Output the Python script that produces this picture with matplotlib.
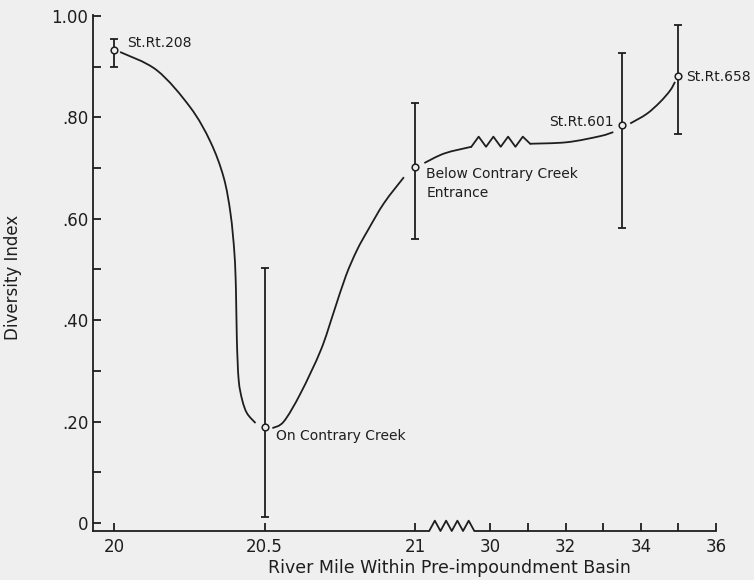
import numpy as np
import matplotlib
matplotlib.use("Agg")
import matplotlib.pyplot as plt
from matplotlib.transforms import blended_transform_factory
from matplotlib.path import Path
from matplotlib.patches import PathPatch

# ---------------- data ----------------
station_miles = [20.0, 20.5, 21.0, 33.5, 35.0]
station_values = [0.932, 0.189, 0.702, 0.784, 0.881]
err_low = [0.899, 0.012, 0.560, 0.581, 0.768]
err_high = [0.955, 0.502, 0.828, 0.928, 0.983]
station_labels = ["St.Rt.208", "On Contrary Creek",
                  "Below Contrary Creek\nEntrance", "St.Rt.601", "St.Rt.658"]

# hand-drawn trend curve (traced), pieces separated by NaN
nan = np.nan
curve_miles = [20.020, 20.142, 20.253, 20.320, 20.364, 20.387, 20.400, 20.405,
               20.408, 20.414, 20.426, 20.442, 20.470, nan,
               20.526, 20.564, 20.620, 20.687, 20.730, 20.770, 20.807, 20.843,
               20.897, 20.963, nan,
               21.031, 21.098, 21.187, nan,
               31.06, 32.04, 32.92, 33.27, nan,
               33.72, 34.16, 34.51, 34.78, 34.91]
curve_values = [0.929, 0.893, 0.820, 0.752, 0.682, 0.610, 0.531, 0.459,
                0.361, 0.282, 0.242, 0.216, 0.197, nan,
                0.187, 0.200, 0.256, 0.341, 0.416, 0.487, 0.538, 0.577,
                0.631, 0.682, nan,
                0.710, 0.729, 0.742, nan,
                0.748, 0.751, 0.763, 0.771, nan,
                0.788, 0.807, 0.830, 0.853, 0.870]

x_major_ticks = [20, 20.5, 21, 30, 32, 34, 36]
x_major_labels = ["20", "20.5", "21", "30", "32", "34", "36"]
x_minor_ticks = [31, 33, 35]
y_major_ticks = [0, 0.2, 0.4, 0.6, 0.8, 1.0]
y_major_labels = ["0", ".20", ".40", ".60", ".80", "1.00"]
y_minor_ticks = [0.1, 0.3, 0.5, 0.7, 0.9]

# ---------------- broken x scale ----------------
BREAK_LO, BREAK_HI = 21.25, 30.0
SEG1_RATE = 8.0  # scale units per mile in the first segment
UB = (BREAK_LO - 20.0) * SEG1_RATE


def fwd(m):
    m = np.asarray(m, dtype=float)
    seg1 = (m - 20.0) * SEG1_RATE
    seg2 = (m - BREAK_HI) + UB
    return np.where(m <= BREAK_LO, seg1, np.where(m >= BREAK_HI, seg2, UB))


def inv(u):
    u = np.asarray(u, dtype=float)
    return np.where(u <= UB, 20.0 + u / SEG1_RATE, BREAK_HI + (u - UB))


def smooth_path(xs, ys):
    """Smooth (Catmull-Rom style) Bezier path through traced points."""
    xs = np.asarray(xs, float)
    ys = np.asarray(ys, float)
    verts, codes = [], []
    breaks = np.where(np.isnan(xs))[0]
    starts = np.concatenate([[0], breaks + 1])
    ends = np.concatenate([breaks, [len(xs)]])
    for s, e in zip(starts, ends):
        P = np.column_stack([xs[s:e], ys[s:e]])
        n = len(P)
        verts.append(P[0]); codes.append(Path.MOVETO)
        for i in range(n - 1):
            p0 = P[i - 1] if i > 0 else P[i]
            p1, p2 = P[i], P[i + 1]
            p3 = P[i + 2] if i + 2 < n else P[i + 1]
            verts += [p1 + (p2 - p0) / 6.0, p2 - (p3 - p1) / 6.0, p2]
            codes += [Path.CURVE4] * 3
    return Path(np.array(verts), codes)


INK = "#1e1e1e"
BG = "#efefef"

plt.rcParams['font.family'] = ['DejaVu Sans']

fig = plt.figure(figsize=(7.54, 5.80), dpi=100, facecolor=BG)
ax = fig.add_axes([93 / 754, 1 - 531 / 580, (716 - 93) / 754, (531 - 15) / 580])
ax.set_facecolor(BG)
ax.set_xscale('function', functions=(fwd, inv))
ax.set_xlim(19.93, 36.0)
ax.set_ylim(-0.016, 1.002)

# trend curve
ax.add_patch(PathPatch(smooth_path(curve_miles, curve_values), fill=False,
                       edgecolor=INK, lw=1.3, zorder=2,
                       transform=ax.transData))

# zigzag break inside the curve
u0, u1 = fwd(21.187), fwd(31.06)
zig_u = np.linspace(float(u0), float(u1), 9)
zig_y = [0.742, 0.762, 0.742, 0.762, 0.742, 0.762, 0.742, 0.762, 0.748]
ax.plot(inv(zig_u), zig_y, color=INK, lw=1.3, zorder=2)

# error bars and stations
yerr = [np.array(station_values) - np.array(err_low),
        np.array(err_high) - np.array(station_values)]
ax.errorbar(station_miles, station_values, yerr=yerr, fmt='none',
            ecolor=INK, elinewidth=1.3, capsize=3.0, capthick=1.3, zorder=3)
ax.plot(station_miles, station_values, 'o', ms=4.8, mfc=BG, mec=INK,
        mew=1.1, zorder=4)

# station labels
fs = 10
ax.text(20.043, 0.946, station_labels[0], fontsize=fs, color=INK,
        ha='left', va='center')
ax.text(20.537, 0.171, station_labels[1], fontsize=fs, color=INK,
        ha='left', va='center')
ax.text(21.037, 0.669, station_labels[2], fontsize=fs, color=INK,
        ha='left', va='center', linespacing=1.45)
ax.text(33.27, 0.790, station_labels[3], fontsize=fs, color=INK,
        ha='right', va='center')
ax.text(35.2, 0.879, station_labels[4], fontsize=fs, color=INK,
        ha='left', va='center')

# spines
for s in ['top', 'right', 'bottom']:
    ax.spines[s].set_visible(False)
ax.spines['left'].set_color(INK)
ax.spines['left'].set_linewidth(1.3)

# bottom axis line with zigzag break
trans = blended_transform_factory(ax.transData, ax.transAxes)
za, zb = fwd(21.047), fwd(21.197)
axis_u = np.concatenate([[fwd(19.93)], np.linspace(float(za), float(zb), 9),
                         [fwd(36.0)]])
axis_y = [0, 0, 0.02, 0, 0.02, 0, 0.02, 0, 0.02, 0, 0]
ax.plot(inv(axis_u), axis_y, color=INK, lw=1.3, transform=trans,
        clip_on=False, zorder=5)

# ticks
ax.set_xticks(x_major_ticks)
ax.set_xticklabels(x_major_labels)
ax.set_xticks(x_minor_ticks, minor=True)
ax.set_yticks(y_major_ticks)
ax.set_yticklabels(y_major_labels)
ax.set_yticks(y_minor_ticks, minor=True)
ax.tick_params(axis='both', which='both', direction='in', length=5.5,
               width=1.3, color=INK, labelcolor=INK, labelsize=12)
ax.tick_params(axis='y', which='both', pad=3.5)
ax.tick_params(axis='x', which='both', pad=5)

ax.set_xlabel("River Mile Within Pre-impoundment Basin", fontsize=12.5,
              color=INK)
ax.xaxis.set_label_coords((449 - 93) / 623, (531 - 568) / 516)
ax.xaxis.label.set_va('center')
ax.set_ylabel("Diversity Index", fontsize=12, color=INK)
ax.yaxis.set_label_coords((13 - 93) / 623, (531 - 277) / 516)
ax.yaxis.label.set_va('center')

fig.savefig("out.png", dpi=100, facecolor=BG)
